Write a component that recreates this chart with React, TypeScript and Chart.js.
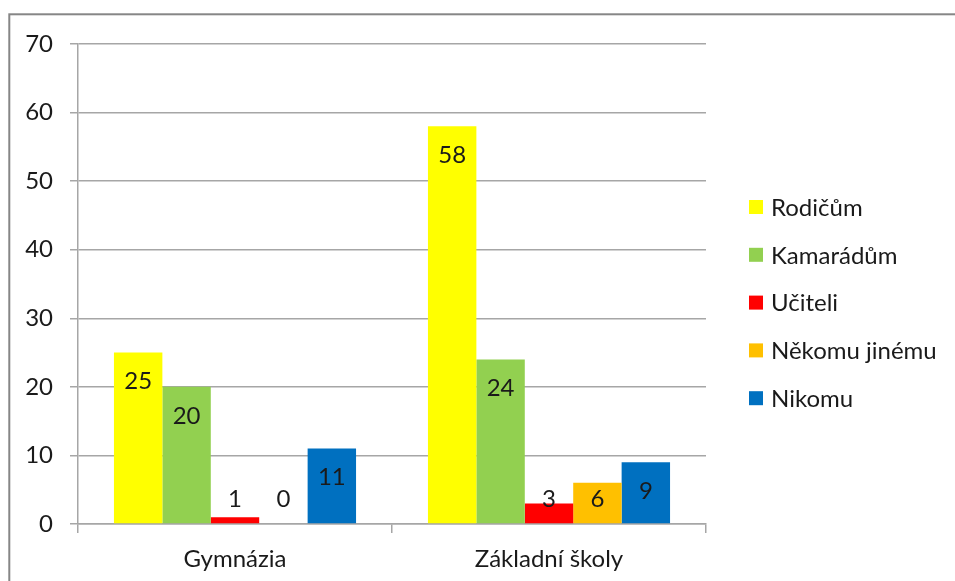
import React, { useEffect, useRef } from "react";
import { Chart, registerables } from "chart.js";
Chart.register(...registerables);

const categories = ["Gymnázia", "Základní školy"];
const seriesNames = ["Rodičům", "Kamarádům", "Učiteli", "Někomu jinému", "Nikomu"];
const rodicum = [25, 58];
const kamaradum = [20, 24];
const uciteli = [1, 3];
const nekomuJinemu = [0, 6];
const nikomu = [11, 9];
const seriesValues = [rodicum, kamaradum, uciteli, nekomuJinemu, nikomu];
const seriesColors = ["#FFFF00", "#92D050", "#FF0000", "#FFC000", "#0070C0"];
const yMin = 0;
const yMax = 70;
const yStep = 10;

const FONT = "Lato, 'Open Sans', sans-serif";
const FONT_SIZE = 24;
const TEXT = "#1a1a1a";

const framePlugin = {
  id: "frame",
  beforeDraw(chart: any) {
    const ctx = chart.ctx;
    ctx.save();
    ctx.fillStyle = "#ffffff";
    ctx.fillRect(0, 0, chart.width, chart.height);
    ctx.strokeStyle = "#868686";
    ctx.lineWidth = 2;
    ctx.strokeRect(9.3, 14.3, chart.width + 50, chart.height + 50);
    ctx.restore();
  },
};

const valueLabelPlugin = {
  id: "valueLabels",
  afterDatasetsDraw(chart: any) {
    const ctx = chart.ctx;
    const yScale = chart.scales.y;
    const zero = yScale.getPixelForValue(0);
    ctx.save();
    ctx.font = `${FONT_SIZE}px ${FONT}`;
    ctx.fillStyle = TEXT;
    ctx.textAlign = "center";
    ctx.textBaseline = "middle";
    chart.data.datasets.forEach((ds: any, di: number) => {
      const meta = chart.getDatasetMeta(di);
      meta.data.forEach((bar: any, i: number) => {
        const v = ds.data[i];
        const y = Math.min(bar.y + 29, zero - 25);
        ctx.fillText(String(v), bar.x, y);
      });
    });
    ctx.restore();
  },
};

const legendPlugin = {
  id: "customLegend",
  afterDraw(chart: any) {
    const ctx = chart.ctx;
    const area = chart.chartArea;
    const boxX = area.right + 43;
    const startY = 207;
    const gap = 47.8;
    const box = 14;
    ctx.save();
    ctx.font = `${FONT_SIZE}px ${FONT}`;
    ctx.textBaseline = "middle";
    ctx.textAlign = "left";
    chart.data.datasets.forEach((ds: any, i: number) => {
      const cy = startY + i * gap;
      ctx.fillStyle = ds.backgroundColor;
      ctx.fillRect(boxX, cy - box / 2, box, box);
      ctx.fillStyle = TEXT;
      ctx.fillText(ds.label, boxX + box + 8, cy + 1);
    });
    ctx.restore();
  },
};

export default function App() {
  const ref = useRef<HTMLCanvasElement>(null);
  useEffect(() => {
    if (!ref.current) return;
    const chart = new Chart(ref.current, {
      type: "bar",
      data: {
        labels: categories,
        datasets: seriesNames.map((name, i) => ({
          label: name,
          data: seriesValues[i],
          backgroundColor: seriesColors[i],
          borderWidth: 0,
          barPercentage: 1,
          categoryPercentage: 0.771,
        })),
      },
      options: {
        responsive: false,
        animation: false,
        events: [],
        layout: { padding: { left: 0, top: 44, right: 249, bottom: 0 } },
        plugins: { legend: { display: false }, tooltip: { enabled: false } },
        scales: {
          x: {
            offset: true,
            grid: {
              display: true,
              drawOnChartArea: false,
              drawTicks: true,
              tickLength: 9,
              offset: true,
              color: "#a6a6a6",
              lineWidth: 1.5,
            },
            border: { display: true, color: "#a6a6a6", width: 1.5 },
            ticks: {
              color: TEXT,
              font: { family: FONT, size: FONT_SIZE },
              padding: 12,
              maxRotation: 0,
            },
            afterFit(scale: any) {
              scale.height = 57;
            },
          },
          y: {
            min: yMin,
            max: yMax,
            ticks: {
              stepSize: yStep,
              color: TEXT,
              font: { family: FONT, size: FONT_SIZE },
              padding: 17,
            },
            grid: {
              color: "#a6a6a6",
              lineWidth: 1.5,
              tickLength: 8,
              drawTicks: true,
            },
            border: { display: true, color: "#a6a6a6", width: 1.5 },
            afterFit(scale: any) {
              scale.width = 78;
            },
          },
        },
      },
      plugins: [framePlugin, valueLabelPlugin, legendPlugin],
    });
    return () => chart.destroy();
  }, []);
  return (
    <div style={{ position: "fixed", left: 0, top: 0, width: 955, height: 581, background: "#fff" }}>
      <canvas ref={ref} width={955} height={581} style={{ display: "block" }} />
    </div>
  );
}
